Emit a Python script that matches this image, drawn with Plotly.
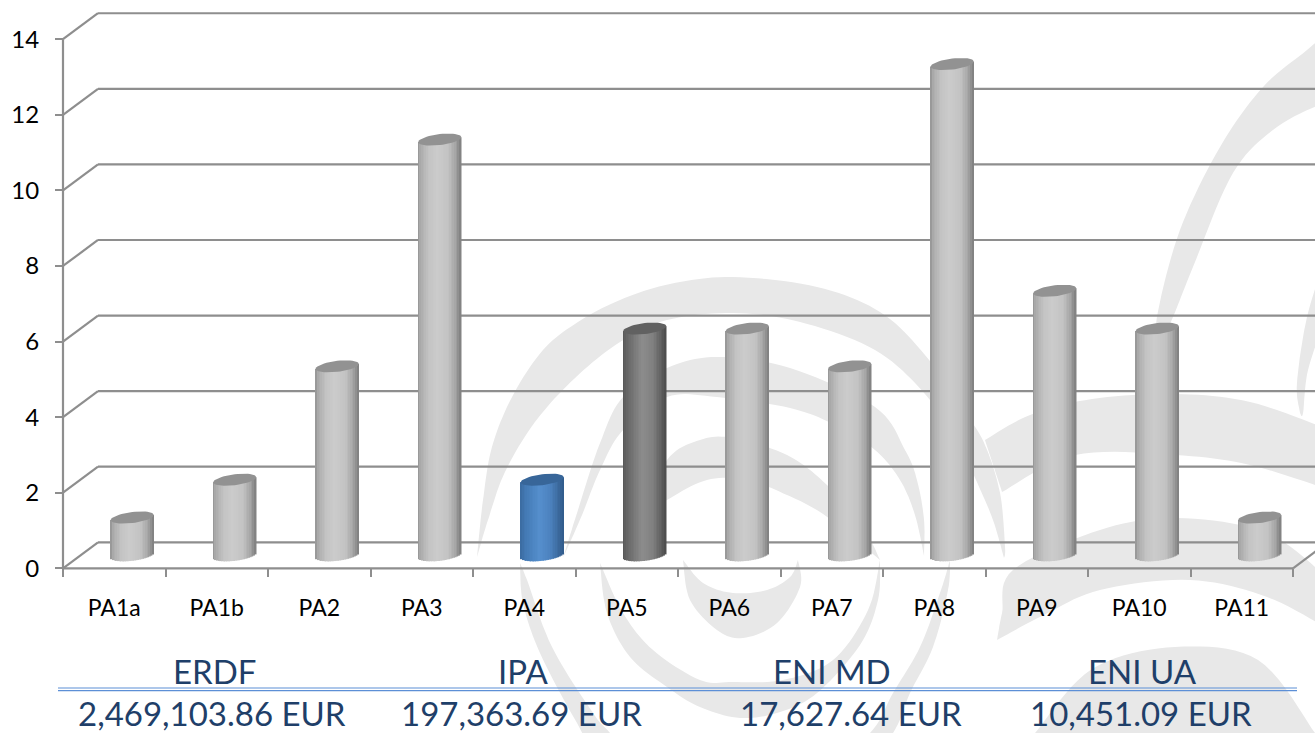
import math
import plotly.graph_objects as go

# ---- data -------------------------------------------------------------
categories = ["PA1a", "PA1b", "PA2", "PA3", "PA4", "PA5", "PA6", "PA7", "PA8", "PA9", "PA10", "PA11"]
values = [1, 2, 5, 11, 2, 6, 6, 5, 13, 7, 6, 1]
highlight = {"PA4": "blue", "PA5": "dark"}
y_ticks = [0, 2, 4, 6, 8, 10, 12, 14]
fund_names = ["ERDF", "IPA", "ENI MD", "ENI UA"]
fund_amounts = ["2,469,103.86 EUR", "197,363.69 EUR", "17,627.64 EUR", "10,451.09 EUR"]

# ---- canvas / scale ---------------------------------------------------
W, H = 1315, 733
X0, CAT = 63.0, 102.5      # pixel of the axis, pixels per category
Y0, UNIT = 568.3, 37.79    # pixel of value 0, pixels per unit
x_range = [(0 - X0) / CAT - 0.5, (W - X0) / CAT - 0.5]
y_range = [(Y0 - H) / UNIT, Y0 / UNIT]
DX, DY = 35 / CAT, 26 / UNIT            # depth of the back wall
BAR_DX, BAR_DY = 18.0 / CAT, 13 / UNIT  # depth of the bars
A, B, TILT = 21.5, 5.5, 2.5             # cylinder ellipse (pixels)
GRID = "#8e8e8e"
STRIPS = 26

ramps = {
    "grey": [(0, (145, 145, 145)), (.06, (170, 170, 170)), (.25, (195, 195, 195)), (.45, (203, 203, 203)), (.7, (195, 195, 195)), (.88, (165, 165, 165)), (1, (125, 125, 125))],
    "dark": [(0, (85, 85, 85)), (.08, (100, 100, 100)), (.45, (140, 140, 140)), (.7, (128, 128, 128)), (.9, (95, 95, 95)), (1, (75, 75, 75))],
    "blue": [(0, (58, 106, 160)), (.1, (66, 120, 178)), (.45, (85, 143, 205)), (.7, (76, 130, 190)), (.9, (58, 104, 155)), (1, (48, 90, 138))],
}
cap_colors = {"grey": "#929292", "dark": "#616161", "blue": "#386699"}


def ramp(kind, t):
    stops = ramps[kind]
    for (t0, c0), (t1, c1) in zip(stops, stops[1:]):
        if t <= t1:
            f = (t - t0) / (t1 - t0)
            return "rgb(%d,%d,%d)" % tuple(round(a + (b - a) * f) for a, b in zip(c0, c1))
    return "rgb(%d,%d,%d)" % stops[-1][1]


def smooth(pts, n=10):
    out = []
    p = [pts[0]] + list(pts) + [pts[-1]]
    for i in range(1, len(p) - 2):
        for k in range(n):
            t = k / n
            out.append(tuple(
                0.5 * (2 * p[i][d] + (p[i + 1][d] - p[i - 1][d]) * t
                       + (2 * p[i - 1][d] - 5 * p[i][d] + 4 * p[i + 1][d] - p[i + 2][d]) * t * t
                       + (3 * p[i][d] - p[i - 1][d] - 3 * p[i + 1][d] + p[i + 2][d]) * t ** 3)
                for d in (0, 1)))
    out.append(pts[-1])
    return out


def crescent(outer, inner):
    pts = smooth(outer) + smooth(inner)
    path = "M" + "L".join("%.4f,%.4f" % (x / W, 1 - y / H) for x, y in pts) + "Z"
    return dict(type="path", xref="paper", yref="paper", path=path, layer="below",
                fillcolor="#e8e8e8", line=dict(width=0))


# ---- background watermark (decoration) ---------------------------------
swirl = [
    ([(477, 557), (483, 500), (492, 447), (512, 397), (543, 350), (578, 322), (620, 300), (670, 284), (733, 277),
      (817, 287), (880, 312), (925, 355), (965, 412), (985, 445), (1000, 493), (1005, 547), (1004, 558)],
     [(1004, 558), (993, 520), (976, 480), (960, 445), (925, 394), (875, 350), (800, 322), (733, 313), (667, 320),
      (620, 342), (575, 378), (535, 422), (505, 472), (488, 520), (477, 557)]),
    ([(563, 558), (577, 513), (600, 443), (623, 397), (667, 368), (717, 357), (790, 368), (875, 407), (905, 450),
      (917, 480), (924, 520), (924, 556)],
     [(924, 556), (915, 515), (900, 480), (875, 450), (835, 425), (790, 408), (717, 397), (667, 397), (623, 430),
      (600, 470), (582, 515), (563, 558)]),
    ([(520, 563), (523, 603), (540, 653), (577, 723), (620, 790), (730, 830), (850, 790), (893, 733), (910, 693),
      (933, 647), (948, 590), (950, 560)],
     [(950, 560), (940, 593), (920, 647), (893, 693), (870, 733), (820, 770), (730, 790), (640, 770), (610, 733),
      (593, 713), (552, 647), (527, 580), (520, 563)]),
    ([(600, 563), (607, 613), (630, 657), (667, 687), (700, 707), (740, 718), (780, 712), (817, 693), (860, 645),
      (878, 600), (880, 560)],
     [(880, 560), (868, 610), (833, 660), (783, 680), (733, 682), (700, 680), (653, 650), (623, 613), (600, 563)]),
    ([(640, 520), (667, 460), (700, 440), (733, 438), (787, 455), (827, 485), (863, 527), (880, 560)],
     [(880, 560), (850, 535), (820, 512), (787, 495), (747, 480), (707, 480), (667, 500), (640, 520)]),
    ([(683, 560), (690, 600), (717, 630), (743, 638), (777, 623), (800, 587), (798, 560)],
     [(798, 560), (790, 577), (767, 590), (733, 593), (703, 583), (683, 560)]),
    ([(985, 440), (1030, 415), (1092, 399), (1175, 394), (1250, 402), (1330, 430)],
     [(1330, 490), (1250, 465), (1175, 455), (1075, 455), (1002, 492)]),
    ([(997, 640), (1002, 613), (1013, 570), (1100, 530), (1177, 518), (1267, 533), (1330, 580)],
     [(1330, 630), (1267, 597), (1190, 580), (1100, 590), (1042, 616), (997, 640)]),
    ([(1035, 733), (1092, 669), (1175, 647), (1258, 660), (1315, 733)], [(1315, 733), (1035, 733)]),
    ([(1160, 345), (1157, 317), (1180, 230), (1220, 147), (1263, 87), (1307, 50), (1330, 30)],
     [(1330, 100), (1277, 127), (1233, 173), (1193, 267), (1173, 317), (1160, 345)]),
    ([(1300, 413), (1297, 383), (1307, 317), (1325, 260)], [(1325, 320), (1308, 370), (1303, 413), (1300, 413)]),
]
shapes = [crescent(o, i) for o, i in swirl]

# ---- chart walls -------------------------------------------------------
left, right = -0.5, len(categories) - 0.5


def wall_line(x0, y0, x1, y1):
    return dict(type="line", xref="x", yref="y", x0=x0, y0=y0, x1=x1, y1=y1, layer="below",
                line=dict(color=GRID, width=2.2))


for v in y_ticks:
    shapes.append(wall_line(left, v, left + DX, v + DY))
    shapes.append(wall_line(left + DX, v + DY, x_range[1], v + DY))
shapes.append(wall_line(left, 0, left, max(y_ticks)))
shapes.append(wall_line(left, 0, right, 0))
shapes.append(wall_line(right, 0, right + DX, DY))

# rule under the fund names
for py in (688.0, 690.6):
    shapes.append(dict(type="line", xref="paper", yref="paper", x0=58 / W, x1=1297 / W,
                       y0=1 - py / H, y1=1 - py / H, layer="above", line=dict(color="#5c8fd6", width=1.1)))

fig = go.Figure()

# ---- cylinders: bodies are stacks of thin bars, caps are filled ellipses ----
kinds = [highlight.get(c, "grey") for c in categories]
positions = list(range(len(categories)))
strip = 2 * A / STRIPS / CAT
for s in range(STRIPS):
    t = (s + 0.5) / STRIPS
    u = 2 * t - 1
    low = BAR_DY + (TILT * u - B * math.sqrt(1 - u * u)) / UNIT
    high = BAR_DY + TILT * u / UNIT
    fig.add_trace(go.Bar(
        x=positions,
        y=[v + high - low for v in values],
        base=[low] * len(values),
        width=[strip * 1.15] * len(values),
        offset=[BAR_DX + u * A / CAT - strip / 2] * len(values),
        marker=dict(color=[ramp(k, t) for k in kinds], line=dict(width=0)),
        hoverinfo="skip", showlegend=False))

for pos, v, k in zip(positions, values, kinds):
    th = [2 * math.pi * i / 48 for i in range(49)]
    fig.add_trace(go.Scatter(
        x=[pos + BAR_DX + A * math.cos(a) / CAT for a in th],
        y=[v + BAR_DY + (TILT * math.cos(a) + B * math.sin(a)) / UNIT for a in th],
        mode="lines", fill="toself", fillcolor=cap_colors[k],
        line=dict(width=0, color=cap_colors[k]),
        hoverinfo="skip", showlegend=False))

# ---- fund table --------------------------------------------------------
name_x = [215, 523, 832, 1142]
amount_x = [212, 521, 851, 1141]
annotations = []
for nx, ax, name, amount in zip(name_x, amount_x, fund_names, fund_amounts):
    annotations.append(dict(x=nx / W, y=1 - 671 / H, xref="paper", yref="paper", text=name, showarrow=False,
                            xanchor="center", yanchor="middle", font=dict(family="Lato", size=33, color="#1f3f69")))
    annotations.append(dict(x=ax / W, y=1 - 713 / H, xref="paper", yref="paper", text=amount, showarrow=False,
                            xanchor="center", yanchor="middle",
                            font=dict(family="Lato", size=33, color="#1f3f69")))

fig.update_layout(
    width=W, height=H, autosize=False,
    margin=dict(l=0, r=0, t=0, b=0),
    paper_bgcolor="white", plot_bgcolor="rgba(0,0,0,0)",
    barmode="overlay", showlegend=False,
    shapes=shapes, annotations=annotations,
    xaxis=dict(
        range=x_range, domain=[0, 1], anchor="free", position=(H - Y0) / H,
        showgrid=False, zeroline=False, showline=False, fixedrange=True,
        tickmode="array", tickvals=positions, ticktext=categories, ticks="",
        ticklabelstandoff=24, tickfont=dict(family="Lato", size=23, color="black"),
        minor=dict(tickmode="array", tickvals=[p - 0.5 for p in positions] + [right],
                   ticks="outside", ticklen=8, tickwidth=2, tickcolor=GRID, showgrid=False),
    ),
    yaxis=dict(
        range=y_range, domain=[0, 1], anchor="free", position=X0 / W,
        showgrid=False, zeroline=False, showline=False, fixedrange=True,
        tickmode="array", tickvals=y_ticks, ticks="outside", ticklen=8, tickwidth=2, tickcolor=GRID,
        ticklabelstandoff=11, tickfont=dict(family="Lato", size=24, color="black"),
    ),
)

fig.write_html("out.html", config=dict(displayModeBar=False),
               post_script="document.documentElement.style.margin='0';document.body.style.margin='0';document.documentElement.style.overflow='hidden';")
